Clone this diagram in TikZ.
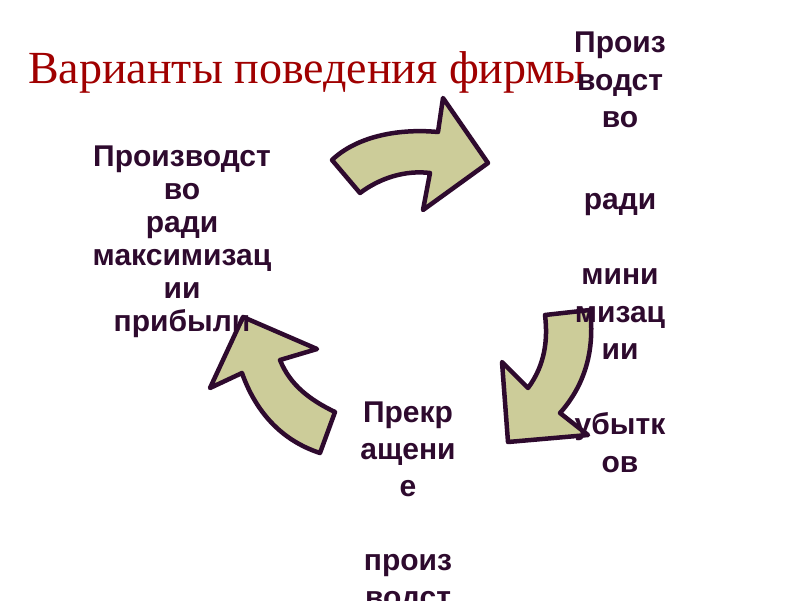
\documentclass[tikz,border=0pt]{standalone}
\usepackage{fontspec}
\newfontfamily\bodyfont{Liberation Sans}
\newfontfamily\titlefont{Liberation Serif}
\definecolor{titlered}{HTML}{A00000}
\definecolor{ink}{HTML}{2E0A2E}
\definecolor{khaki}{HTML}{CCCC99}
\tikzset{
  blockarrow/.style={fill=khaki, draw=ink, line width=4.5pt, line join=round},
  label/.style={text=ink, align=center, inner sep=0pt, anchor=north},
}
\begin{document}
\begin{tikzpicture}[x=1pt,y=-1pt]
\useasboundingbox (0,0) rectangle (800,600);
\clip (0,0) rectangle (800,600);
\fill[white] (0,0) rectangle (800,600);
% arrows
\draw[blockarrow] (332,160) -- (360,193) .. controls (380,178) and (405,170) .. (430,173)
  -- (423,210) -- (488,163) -- (443,98) -- (438,132) .. controls (395,128) and (355,138) .. cycle;
\draw[blockarrow] (545,315) -- (590,310) .. controls (595,350) and (585,385) .. (560,413)
  -- (588,435) -- (508,442) -- (502,362) -- (528,388) .. controls (545,365) and (548,340) .. cycle;
\draw[blockarrow] (243,317) -- (317,349) -- (280,360) .. controls (290,385) and (310,400) .. (335,412)
  -- (320,453) .. controls (280,440) and (255,410) .. (242,373) -- (210,388) -- cycle;
% title
\node[anchor=base west, inner sep=0pt, text=titlered, font=\titlefont\fontsize{46}{52}\selectfont] (title) at (28,83) {Варианты поведения фирмы};
% texts
\node[label, font=\bodyfont\bfseries\fontsize{30}{33}\selectfont] (left) at (182,146)
  {Производст\\во\\ради\\максимизац\\ии\\прибыли};
\node[label, font=\bodyfont\bfseries\fontsize{30}{37.5}\selectfont] (right) at (620,32)
  {Произ\\водст\\во\\[7pt] \\ради\\ \\мини\\мизац\\ии\\ \\убытк\\ов};
\node[label, font=\bodyfont\bfseries\fontsize{30}{37}\selectfont] (bottom) at (408,402)
  {Прекр\\ащени\\е\\ \\произ\\водст};
\end{tikzpicture}
\end{document}
